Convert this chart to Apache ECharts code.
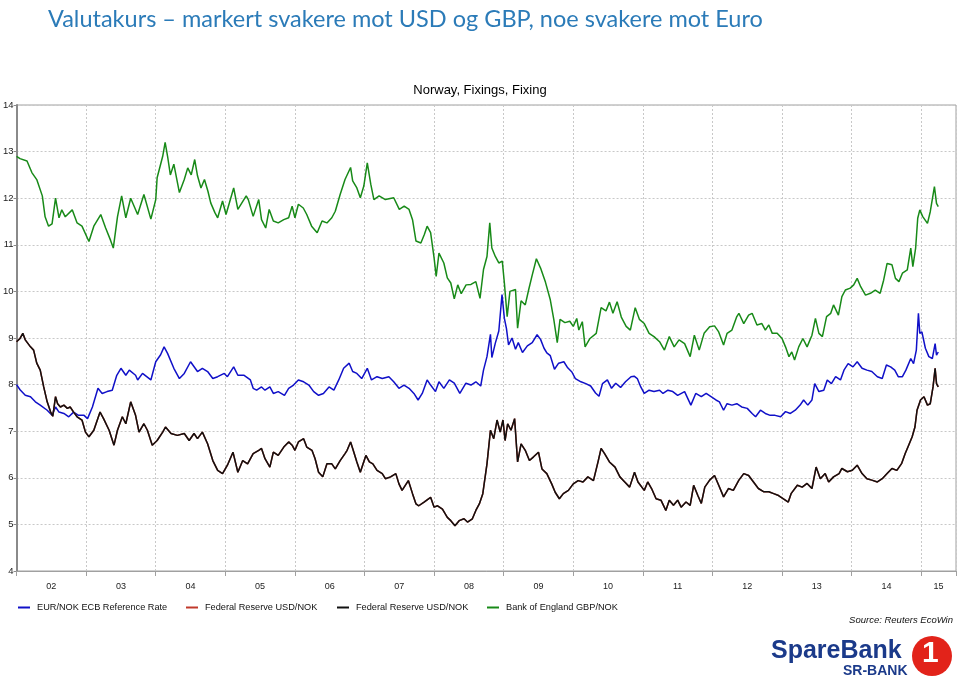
<!DOCTYPE html>
<html>
<head>
<meta charset="utf-8">
<script src="https://cdn.jsdelivr.net/npm/echarts@6/dist/echarts.min.js"></script>
<style>
html,body{margin:0;padding:0;background:#fff;}
#chart{width:960px;height:686px;}
</style>
</head>
<body>
<div id="chart"></div>
<script>
// ---- Data: [decimal year, value] ----
const eurNok = [
[2002.00,8.00],[2002.05,7.89],[2002.125,7.77],[2002.20,7.74],[2002.27,7.63],[2002.34,7.56],[2002.44,7.45],[2002.51,7.34],[2002.56,7.52],[2002.61,7.41],[2002.68,7.38],[2002.75,7.31],[2002.82,7.41],[2002.89,7.34],[2002.97,7.34],
[2003.02,7.27],[2003.09,7.52],[2003.17,7.92],[2003.23,7.81],[2003.30,7.85],[2003.375,7.88],[2003.44,8.20],[2003.50,8.35],[2003.57,8.20],[2003.62,8.31],[2003.71,8.20],[2003.74,8.10],[2003.81,8.24],[2003.93,8.10],
[2004.00,8.49],[2004.07,8.64],[2004.12,8.81],[2004.17,8.67],[2004.26,8.35],[2004.34,8.13],[2004.41,8.24],[2004.50,8.49],[2004.60,8.28],[2004.67,8.35],[2004.745,8.28],[2004.82,8.13],[2004.89,8.17],[2004.985,8.24],
[2005.03,8.17],[2005.12,8.38],[2005.18,8.20],[2005.27,8.20],[2005.36,8.10],[2005.40,7.92],[2005.45,7.88],[2005.52,7.95],[2005.57,7.88],[2005.64,7.95],[2005.69,7.81],[2005.76,7.85],[2005.85,7.77],[2005.91,7.92],[2005.98,7.99],
[2006.05,8.10],[2006.125,8.06],[2006.20,7.99],[2006.27,7.85],[2006.34,7.77],[2006.41,7.81],[2006.49,7.95],[2006.56,7.88],[2006.63,8.10],[2006.70,8.35],[2006.78,8.46],[2006.83,8.28],[2006.89,8.24],[2006.96,8.13],
[2007.04,8.35],[2007.10,8.10],[2007.18,8.17],[2007.255,8.13],[2007.35,8.17],[2007.42,8.06],[2007.495,7.92],[2007.567,7.99],[2007.64,7.92],[2007.71,7.81],[2007.77,7.67],[2007.83,7.81],[2007.90,8.10],[2007.95,7.99],
[2008.02,7.85],[2008.07,8.06],[2008.14,7.92],[2008.22,8.10],[2008.29,8.03],[2008.37,7.81],[2008.457,8.03],[2008.53,7.99],[2008.60,8.06],[2008.67,7.97],[2008.71,8.31],[2008.76,8.60],[2008.81,9.08],[2008.83,8.58],[2008.88,8.89],[2008.93,9.15],[2008.976,9.93],
[2009.01,9.42],[2009.04,9.20],[2009.07,8.85],[2009.12,9.00],[2009.17,8.76],[2009.21,8.90],[2009.27,8.69],[2009.34,8.83],[2009.41,8.90],[2009.48,9.07],[2009.53,8.97],[2009.58,8.78],[2009.62,8.68],[2009.67,8.62],[2009.73,8.33],[2009.79,8.46],[2009.865,8.49],[2009.92,8.36],[2009.98,8.27],
[2010.03,8.13],[2010.11,8.06],[2010.18,8.02],[2010.25,7.97],[2010.32,7.82],[2010.37,7.75],[2010.42,8.02],[2010.49,8.10],[2010.55,7.92],[2010.61,8.03],[2010.68,7.94],[2010.75,8.06],[2010.83,8.17],[2010.875,8.18],[2010.92,8.13],[2010.97,7.95],
[2011.02,7.81],[2011.09,7.88],[2011.16,7.85],[2011.24,7.88],[2011.29,7.81],[2011.36,7.88],[2011.43,7.85],[2011.50,7.77],[2011.60,7.85],[2011.69,7.56],[2011.76,7.81],[2011.84,7.74],[2011.91,7.81],[2011.98,7.74],
[2012.05,7.67],[2012.10,7.63],[2012.16,7.45],[2012.21,7.59],[2012.28,7.56],[2012.35,7.59],[2012.42,7.52],[2012.50,7.49],[2012.57,7.38],[2012.62,7.31],[2012.69,7.45],[2012.76,7.38],[2012.83,7.34],[2012.90,7.34],[2012.98,7.31],
[2013.05,7.42],[2013.12,7.38],[2013.19,7.45],[2013.26,7.56],[2013.31,7.67],[2013.37,7.56],[2013.43,7.67],[2013.47,8.02],[2013.53,7.85],[2013.60,7.88],[2013.65,8.10],[2013.71,8.02],[2013.77,8.17],[2013.84,8.10],[2013.89,8.31],[2013.95,8.45],
[2014.02,8.38],[2014.08,8.49],[2014.15,8.35],[2014.22,8.31],[2014.29,8.28],[2014.37,8.17],[2014.44,8.13],[2014.50,8.42],[2014.56,8.38],[2014.62,8.31],[2014.67,8.17],[2014.73,8.17],[2014.78,8.31],[2014.85,8.56],[2014.89,8.45],[2014.93,8.74],[2014.96,9.53],[2014.98,9.10],
[2015.01,9.13],[2015.06,8.78],[2015.11,8.60],[2015.16,8.56],[2015.20,8.88],[2015.22,8.63],[2015.245,8.70]
];

const usdNok = [
[2002.00,8.92],[2002.05,8.99],[2002.09,9.10],[2002.125,8.96],[2002.20,8.81],[2002.245,8.74],[2002.29,8.46],[2002.34,8.31],[2002.39,7.95],[2002.44,7.63],[2002.49,7.41],[2002.52,7.32],[2002.56,7.74],[2002.59,7.59],[2002.63,7.52],[2002.68,7.56],[2002.73,7.49],[2002.77,7.52],[2002.82,7.41],[2002.87,7.31],[2002.94,7.24],[2002.99,6.98],
[2003.04,6.88],[2003.11,7.02],[2003.20,7.41],[2003.25,7.27],[2003.33,7.02],[2003.40,6.70],[2003.45,7.02],[2003.52,7.31],[2003.57,7.16],[2003.64,7.63],[2003.71,7.34],[2003.76,6.98],[2003.83,7.16],[2003.88,7.02],[2003.95,6.70],
[2004.02,6.80],[2004.10,6.98],[2004.14,7.09],[2004.22,6.95],[2004.31,6.91],[2004.41,6.95],[2004.48,6.80],[2004.55,6.95],[2004.60,6.84],[2004.67,6.98],[2004.745,6.73],[2004.82,6.37],[2004.89,6.16],[2004.96,6.09],
[2005.03,6.27],[2005.11,6.55],[2005.18,6.12],[2005.25,6.37],[2005.32,6.30],[2005.40,6.52],[2005.48,6.59],[2005.52,6.63],[2005.57,6.41],[2005.64,6.23],[2005.69,6.55],[2005.76,6.48],[2005.84,6.66],[2005.91,6.77],[2005.96,6.70],
[2006.00,6.59],[2006.05,6.77],[2006.125,6.84],[2006.17,6.66],[2006.245,6.59],[2006.29,6.41],[2006.34,6.12],[2006.40,6.02],[2006.46,6.30],[2006.53,6.30],[2006.58,6.19],[2006.65,6.37],[2006.72,6.52],[2006.75,6.59],[2006.80,6.77],[2006.83,6.63],[2006.89,6.34],[2006.94,6.12],[2006.98,6.30],
[2007.02,6.48],[2007.07,6.34],[2007.12,6.30],[2007.18,6.16],[2007.255,6.09],[2007.30,5.98],[2007.375,6.02],[2007.45,6.09],[2007.495,5.87],[2007.54,5.73],[2007.63,5.94],[2007.69,5.66],[2007.74,5.44],[2007.78,5.40],[2007.856,5.48],[2007.92,5.55],[2007.95,5.58],
[2008.00,5.37],[2008.05,5.40],[2008.12,5.33],[2008.19,5.15],[2008.24,5.08],[2008.30,4.97],[2008.36,5.08],[2008.43,5.12],[2008.48,5.05],[2008.55,5.12],[2008.60,5.30],[2008.65,5.44],[2008.70,5.66],[2008.76,6.30],[2008.81,7.02],[2008.857,6.84],[2008.905,7.24],[2008.95,6.98],[2008.99,7.24],
[2009.02,6.80],[2009.057,7.16],[2009.105,7.02],[2009.157,7.27],[2009.20,6.34],[2009.25,6.73],[2009.31,6.59],[2009.37,6.37],[2009.43,6.45],[2009.50,6.55],[2009.55,6.19],[2009.62,6.09],[2009.69,5.87],[2009.74,5.69],[2009.80,5.55],[2009.857,5.66],[2009.93,5.73],
[2010.00,5.87],[2010.07,5.94],[2010.14,5.91],[2010.21,6.02],[2010.29,5.94],[2010.36,6.37],[2010.40,6.63],[2010.45,6.52],[2010.52,6.34],[2010.60,6.23],[2010.67,6.02],[2010.74,5.91],[2010.81,5.80],[2010.88,6.12],[2010.93,5.91],
[2011.02,5.73],[2011.07,5.91],[2011.125,5.77],[2011.19,5.55],[2011.26,5.52],[2011.33,5.30],[2011.38,5.52],[2011.44,5.41],[2011.50,5.52],[2011.55,5.37],[2011.62,5.48],[2011.68,5.41],[2011.73,5.84],[2011.79,5.62],[2011.84,5.45],[2011.89,5.80],[2011.96,5.95],
[2012.03,6.05],[2012.09,5.84],[2012.16,5.59],[2012.23,5.77],[2012.30,5.73],[2012.38,5.95],[2012.45,6.09],[2012.52,6.05],[2012.59,5.91],[2012.66,5.77],[2012.74,5.70],[2012.81,5.70],[2012.88,5.66],[2012.95,5.62],
[2013.02,5.55],[2013.09,5.48],[2013.13,5.66],[2013.22,5.84],[2013.29,5.80],[2013.36,5.88],[2013.43,5.77],[2013.49,6.23],[2013.55,5.98],[2013.62,6.09],[2013.67,5.91],[2013.74,6.02],[2013.82,6.09],[2013.86,6.20],[2013.94,6.13],
[2014.01,6.16],[2014.08,6.27],[2014.15,6.09],[2014.22,5.98],[2014.29,5.95],[2014.37,5.91],[2014.44,5.98],[2014.51,6.09],[2014.58,6.20],[2014.65,6.16],[2014.72,6.31],[2014.77,6.52],[2014.82,6.70],[2014.87,6.88],[2014.91,7.09],[2014.94,7.45],[2014.99,7.67],
[2015.04,7.74],[2015.09,7.56],[2015.13,7.59],[2015.17,7.95],[2015.20,8.35],[2015.22,8.02],[2015.245,7.95]
];

const gbpNok = [
[2002.00,12.90],[2002.05,12.85],[2002.15,12.80],[2002.22,12.55],[2002.29,12.40],[2002.37,12.05],[2002.41,11.60],[2002.46,11.40],[2002.51,11.45],[2002.56,12.00],[2002.61,11.58],[2002.65,11.75],[2002.70,11.60],[2002.80,11.75],[2002.87,11.47],[2002.94,11.40],
[2003.04,11.07],[2003.11,11.40],[2003.21,11.65],[2003.28,11.36],[2003.35,11.10],[2003.39,10.93],[2003.45,11.60],[2003.51,12.05],[2003.57,11.58],[2003.64,12.00],[2003.74,11.65],[2003.83,12.08],[2003.93,11.55],
[2004.00,11.97],[2004.02,12.44],[2004.10,12.90],[2004.135,13.20],[2004.17,12.90],[2004.21,12.50],[2004.26,12.73],[2004.34,12.12],[2004.41,12.40],[2004.46,12.65],[2004.51,12.50],[2004.56,12.83],[2004.60,12.48],[2004.65,12.22],[2004.70,12.40],[2004.75,12.15],[2004.79,11.90],[2004.85,11.69],[2004.89,11.58],[2004.96,11.94],
[2005.01,11.65],[2005.12,12.22],[2005.18,11.76],[2005.30,12.05],[2005.33,11.97],[2005.40,11.61],[2005.48,11.97],[2005.52,11.54],[2005.58,11.36],[2005.63,11.76],[2005.69,11.51],[2005.76,11.47],[2005.84,11.54],[2005.91,11.58],[2005.96,11.83],
[2006.00,11.58],[2006.05,11.87],[2006.12,11.79],[2006.17,11.65],[2006.24,11.40],[2006.32,11.26],[2006.39,11.51],[2006.46,11.47],[2006.53,11.58],[2006.58,11.72],[2006.65,12.08],[2006.72,12.40],[2006.80,12.66],[2006.83,12.37],[2006.89,12.22],[2006.94,12.01],[2006.99,12.26],
[2007.04,12.76],[2007.09,12.30],[2007.135,11.97],[2007.21,12.05],[2007.30,11.97],[2007.42,12.01],[2007.50,11.76],[2007.57,11.83],[2007.64,11.76],[2007.69,11.54],[2007.74,11.08],[2007.81,11.04],[2007.86,11.22],[2007.90,11.40],[2007.95,11.26],
[2008.00,10.72],[2008.03,10.32],[2008.07,10.82],[2008.14,10.61],[2008.19,10.29],[2008.24,10.18],[2008.29,9.84],[2008.34,10.14],[2008.39,9.95],[2008.46,10.14],[2008.53,10.15],[2008.60,10.21],[2008.66,9.85],[2008.71,10.47],[2008.76,10.75],[2008.80,11.47],[2008.83,10.93],[2008.88,10.75],[2008.93,10.61],[2008.98,10.65],
[2009.01,10.18],[2009.05,9.46],[2009.09,10.00],[2009.17,10.04],[2009.20,9.21],[2009.25,9.80],[2009.31,9.71],[2009.36,10.04],[2009.41,10.35],[2009.47,10.70],[2009.53,10.50],[2009.60,10.20],[2009.67,9.82],[2009.72,9.40],[2009.77,8.90],[2009.81,9.40],[2009.88,9.33],[2009.95,9.36],
[2010.00,9.25],[2010.05,9.42],[2010.08,9.17],[2010.13,9.35],[2010.17,8.81],[2010.24,8.99],[2010.33,9.10],[2010.40,9.65],[2010.47,9.58],[2010.52,9.77],[2010.57,9.53],[2010.63,9.78],[2010.69,9.45],[2010.76,9.25],[2010.82,9.17],[2010.89,9.65],[2010.95,9.40],
[2011.02,9.31],[2011.09,9.10],[2011.16,9.03],[2011.24,8.92],[2011.31,8.74],[2011.38,9.03],[2011.45,8.81],[2011.52,8.96],[2011.60,8.88],[2011.68,8.60],[2011.74,9.06],[2011.81,8.74],[2011.88,9.10],[2011.96,9.24],
[2012.03,9.26],[2012.09,9.13],[2012.16,8.85],[2012.21,9.10],[2012.28,9.17],[2012.35,9.46],[2012.38,9.53],[2012.45,9.31],[2012.52,9.49],[2012.57,9.53],[2012.64,9.28],[2012.71,9.31],[2012.76,9.17],[2012.81,9.28],[2012.86,9.10],[2012.93,9.10],
[2013.00,8.99],[2013.05,8.81],[2013.10,8.60],[2013.14,8.70],[2013.18,8.53],[2013.24,8.81],[2013.30,8.99],[2013.36,8.81],[2013.43,9.06],[2013.48,9.42],[2013.53,9.10],[2013.58,9.03],[2013.64,9.46],[2013.70,9.53],[2013.74,9.71],[2013.81,9.49],[2013.86,9.89],[2013.91,10.03],[2013.98,10.07],
[2014.03,10.14],[2014.08,10.28],[2014.13,10.10],[2014.20,9.92],[2014.27,9.96],[2014.34,10.03],[2014.41,9.96],[2014.46,10.24],[2014.51,10.60],[2014.58,10.57],[2014.63,10.28],[2014.68,10.21],[2014.73,10.39],[2014.80,10.46],[2014.85,10.93],[2014.88,10.53],[2014.92,10.93],[2014.95,11.57],[2014.98,11.75],
[2015.02,11.61],[2015.09,11.46],[2015.13,11.71],[2015.19,12.25],[2015.22,11.89],[2015.245,11.82]
];

// ---- Labels ----
const seriesNames = ['EUR/NOK ECB Reference Rate', 'Federal Reserve USD/NOK', 'Federal Reserve USD/NOK', 'Bank of England GBP/NOK'];
const yearLabels = ['02','03','04','05','06','07','08','09','10','11','12','13','14','15'];
const yearLabelPos = [2002.5,2003.5,2004.5,2005.5,2006.5,2007.5,2008.5,2009.5,2010.5,2011.5,2012.5,2013.5,2014.5,2015.25];
const mainTitle = 'Valutakurs – markert svakere mot USD og GBP, noe svakere mot Euro';
const chartTitle = 'Norway, Fixings, Fixing';
const sourceText = 'Source: Reuters EcoWin';

const ids = ['eur', 'usdRed', 'usdBlack', 'gbp'];
const colors = ['#1010C8', '#C0392B', '#111111', '#188A18'];
const legendPos = [18, 186, 337, 487];
const FONT = '"Liberation Sans", Arial, sans-serif';

const chart = echarts.init(document.getElementById('chart'), null, {renderer: 'canvas'});

const legends = ids.map((id, i) => ({
  data: [id],
  left: legendPos[i],
  top: 603,
  padding: 0,
  orient: 'horizontal',
  icon: 'rect',
  itemWidth: 12,
  itemHeight: 2,
  itemGap: 6,
  selectedMode: false,
  formatter: () => seriesNames[i],
  textStyle: {fontFamily: FONT, fontSize: 9.2, color: '#111', padding: [0, 0, 0, 2]}
}));

const dataSets = [eurNok, usdNok, usdNok, gbpNok];

chart.setOption({
  animation: false,
  backgroundColor: '#fff',
  title: [
    {text: mainTitle, left: 43, top: 2,
     textStyle: {fontFamily: 'Lato, "Open Sans", sans-serif', fontWeight: 'normal', fontSize: 23.5, color: '#2B7BB8'}},
    {text: chartTitle, left: 'center', top: 79,
     textStyle: {fontFamily: FONT, fontWeight: 'normal', fontSize: 13, color: '#000'}},
    {text: sourceText, right: 2, top: 610,
     textStyle: {fontFamily: FONT, fontWeight: 'normal', fontStyle: 'italic', fontSize: 9.5, color: '#111'}}
  ],
  legend: legends,
  grid: {left: 16, right: 4, top: 105, bottom: 115, show: true, borderColor: '#a0a0a0', borderWidth: 1, containLabel: false},
  xAxis: [
    {type: 'value', min: 2002, max: 2015.5, interval: 1,
     axisLine: {show: true, onZero: false, lineStyle: {color: '#a0a0a0'}},
     axisTick: {show: true, length: 5, lineStyle: {color: '#a0a0a0'}},
     axisLabel: {show: false},
     splitLine: {show: true, lineStyle: {color: '#c8c8c8', type: [2, 2], width: 1}}},
    {type: 'value', min: 2002, max: 2015.5, position: 'bottom', gridIndex: 0,
     axisLine: {show: false}, axisTick: {show: false}, splitLine: {show: false},
     axisLabel: {show: true, customValues: yearLabelPos, margin: 11,
       fontFamily: FONT, fontSize: 9, color: '#222',
       formatter: (v) => { const k = yearLabelPos.findIndex(p => Math.abs(p - v) < 1e-6); return k >= 0 ? yearLabels[k] : ''; }}}
  ],
  yAxis: {type: 'value', min: 4, max: 14, interval: 1,
    axisLine: {show: true, lineStyle: {color: '#8a8a8a', width: 2}},
    axisTick: {show: true, length: 3, lineStyle: {color: '#8a8a8a'}},
    axisLabel: {fontFamily: FONT, fontSize: 9.5, color: '#222', margin: 3},
    splitLine: {show: true, lineStyle: {color: '#c8c8c8', type: [2, 2], width: 1}}},
  series: ids.map((id, i) => ({
    id: id, name: id, type: 'line', xAxisIndex: 0, yAxisIndex: 0,
    data: dataSets[i], showSymbol: false, symbol: 'none',
    lineStyle: {color: colors[i], width: 1.5},
    itemStyle: {color: colors[i]},
    z: [2, 2, 3, 4][i]
  })),
  graphic: [
    {type: 'text', left: 771, top: 639, style: {text: 'SpareBank', font: 'bold 25px "Liberation Sans", Arial, sans-serif', fill: '#1B3A8A'}},
    {type: 'text', left: 843, top: 664, style: {text: 'SR-BANK', font: 'bold 14px "Liberation Sans", Arial, sans-serif', fill: '#1B3A8A'}},
    {type: 'circle', shape: {cx: 932, cy: 656, r: 20}, style: {fill: '#E2231A'}},
    {type: 'text', left: 922, top: 639, style: {text: '1', font: 'bold 30px "Liberation Sans", Arial, sans-serif', fill: '#fff'}}
  ]
});
</script>
</body>
</html>
